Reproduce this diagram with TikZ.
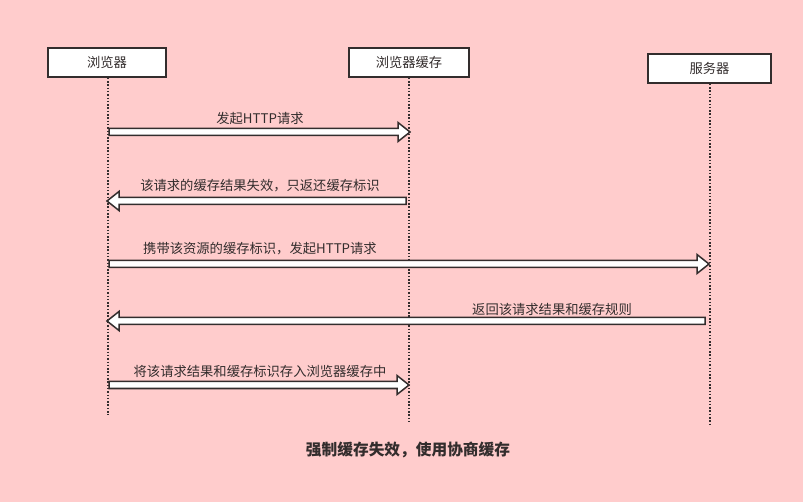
\documentclass[tikz,border=0pt]{standalone}
\usepackage{fontspec}
\setmainfont{Noto Sans CJK SC}
\usetikzlibrary{calc}
\definecolor{bg}{RGB}{255,204,204}
\definecolor{ink}{RGB}{51,45,45}
\newcommand\blkarrow[3]{% from, to, direction (1 right, -1 left)
  \draw[blk] ($(#1)+(0,3.5)$) -- ($(#2)+(-12*#3,3.5)$) -- ($(#2)+(-12*#3,9.5)$) -- (#2)
    -- ($(#2)+(-12*#3,-9.5)$) -- ($(#2)+(-12*#3,-3.5)$) -- ($(#1)+(0,-3.5)$) -- cycle;}
\begin{document}
\begin{tikzpicture}[x=1pt,y=-1pt,
  actor/.style={draw=ink,line width=1.6pt,fill=white,minimum width=118pt,minimum height=29pt,inner sep=0pt,font=\fontsize{13.3}{15}\selectfont,text=ink},
  life/.style={draw=ink,line width=1.5pt,dash pattern=on 1.5pt off 1.8pt},
  blk/.style={draw=ink,line width=1.5pt,fill=white,line join=miter},
  lbl/.style={font=\fontsize{13.3}{15}\selectfont,text=ink,inner sep=0pt},
  ttl/.style={font=\bfseries\fontsize{15.7}{18}\selectfont,text=ink,inner sep=0pt}]
\fill[bg] (0,0) rectangle (803,502);
\useasboundingbox (0,0) rectangle (803,502);
\node[actor] (br) at (107,62.5) {浏览器};
\node[actor,minimum width=120pt] (ca) at (409,62.5) {浏览器缓存};
\node[actor,minimum width=123pt] (sv) at (709.5,68.5) {服务器};
\coordinate (brE) at (108,415);
\coordinate (caE) at (409,422);
\coordinate (svE) at (710,425);
\draw[life] (br.south -| brE) -- (brE);
\draw[life] (ca.south -| caE) -- (caE);
\draw[life] (sv.south -| svE) -- (svE);
% arrow 1
\coordinate (a1s) at (109,132); \coordinate (a1e) at (410,132);
\blkarrow{a1s}{a1e}{1}
\node[lbl] (l1) at (260,118) {发起HTTP请求};
% arrow 2
\coordinate (a2s) at (406,201); \coordinate (a2e) at (107,201);
\blkarrow{a2s}{a2e}{-1}
\node[lbl] (l2) at (260,186) {该请求的缓存结果失效，只返还缓存标识};
% arrow 3
\coordinate (a3s) at (109,264); \coordinate (a3e) at (709,264);
\blkarrow{a3s}{a3e}{1}
\node[lbl] (l3) at (260,249) {携带该资源的缓存标识，发起HTTP请求};
% arrow 4
\coordinate (a4s) at (705,321); \coordinate (a4e) at (107,321);
\blkarrow{a4s}{a4e}{-1}
\node[lbl] (l4) at (552,309) {返回该请求结果和缓存规则};
% arrow 5
\coordinate (a5s) at (109,385); \coordinate (a5e) at (409,385);
\blkarrow{a5s}{a5e}{1}
\node[lbl] (l5) at (260,371) {将该请求结果和缓存标识存入浏览器缓存中};
\node[ttl] (t) at (408,450) {强制缓存失效，使用协商缓存};
\end{tikzpicture}
\end{document}
